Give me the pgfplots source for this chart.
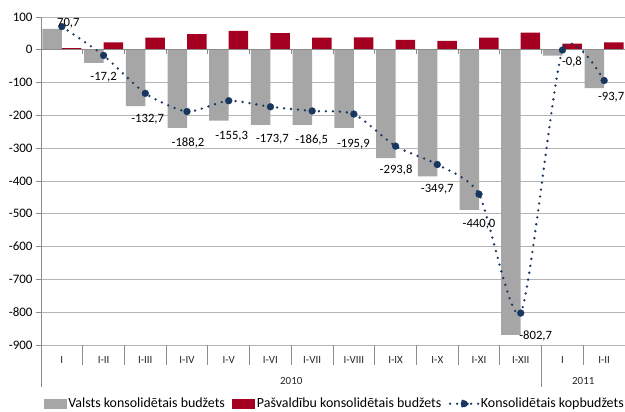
\documentclass[border=0pt]{standalone}
\usepackage{pgfplots}
\pgfplotsset{compat=1.18}
\usepackage{pgfplotstable}
\usepackage{fontspec}
\setmainfont{Carlito}
\definecolor{grayBar}{HTML}{A6A6A6}
\definecolor{redBar}{HTML}{A50021}
\definecolor{navy}{HTML}{17375E}
\definecolor{gridc}{HTML}{B5B5B5}
\definecolor{axisc}{HTML}{8C8C8C}

\pgfplotstableread{
x v
0 64
1 -40
2 -172
3 -238
4 -216
5 -229
6 -229
7 -238
8 -330
9 -386
10 -488
11 -869
12 -18
13 -117
}\valsts

\pgfplotstableread{
x v
0 5
1 23
2 37
3 48
4 58
5 51
6 37
7 38
8 30
9 27
10 37
11 52
12 19
13 23
}\pasv

\pgfplotstableread{
x v dx dy lab
0 70.7 6.5 3 70,7
1 -17.2 0 -22 -17,2
2 -132.7 2.4 -25.5 -132,7
3 -188.2 1 -31 -188,2
4 -155.3 3 -35 -155,3
5 -173.7 2 -32.5 -173,7
6 -186.5 -0.5 -29 -186,5
7 -195.9 -0.5 -30 -195,9
8 -293.8 0.5 -24 -293,8
9 -349.7 0 -25 -349,7
10 -440.0 0 -30 -440,0
11 -802.7 15 -22.5 -802,7
12 -0.8 9.5 -12 -0,8
13 -93.7 7 -16.5 -93,7
}\kop

\begin{document}
\begin{tikzpicture}
\begin{axis}[
  at={(41bp,67bp)}, anchor=south west,
  scale only axis, width=584bp, height=328bp,
  xmin=-0.5, xmax=13.5, ymin=-900, ymax=100,
  axis x line*=bottom, axis y line*=left,
  x axis line style={gridc, line width=0.75bp},
  y axis line style={axisc, line width=0.75bp},
  xtick={0,...,13},
  xticklabels={I,I-II,I-III,I-IV,I-V,I-VI,I-VII,I-VIII,I-IX,I-X,I-XI,I-XII,I,I-II},
  xtick style={draw=none},
  xticklabel style={anchor=center, yshift=-10bp, font=\fontsize{11}{13}\selectfont, text=black!85},
  ytick={-900,-800,...,100},
  tick align=outside,
  major tick length=5bp,
  ytick style={axisc, line width=0.75bp},
  yticklabel style={font=\fontsize{13}{15}\selectfont, text=black},
  /pgf/number format/assume math mode=true,
  ymajorgrids,
  grid style={gridc, line width=0.75bp},
  clip=false,
  legend columns=3,
  legend style={at={(0.5026,-0.179)}, anchor=center, draw=none, fill=none,
    font=\fontsize{14}{16}\selectfont, inner sep=0pt,
    nodes={inner sep=1.5bp},
    /tikz/every even column/.append style={column sep=6bp}},
]
\addplot[ybar, bar width=19.5bp, bar shift=-9.75bp, fill=grayBar, draw=none,
  legend image code/.code={\fill[grayBar] (0bp,-5bp) rectangle (23bp,5bp);}]
  table[x=x, y=v] {\valsts};
\addlegendentry{Valsts konsolidētais budžets}
\addplot[ybar, bar width=19.5bp, bar shift=9.75bp, fill=redBar, draw=none,
  legend image code/.code={\fill[redBar] (0bp,-5bp) rectangle (23bp,5bp);}]
  table[x=x, y=v] {\pasv};
\addlegendentry{Pašvaldību konsolidētais budžets}
\draw[axisc, line width=0.75bp] (axis cs:-0.5,0) -- (axis cs:13.5,0);
\pgfplotsinvokeforeach{0.5,1.5,...,12.5}{
  \draw[axisc, line width=0.75bp] (axis cs:#1,0) -- ([yshift=-4bp]axis cs:#1,0);
}
\addplot[navy, line width=2.6bp, line cap=round, dash pattern=on 0pt off 7bp,
  smooth, tension=0.4,
  mark=*, mark size=3.5bp, mark options={solid, fill=navy, draw=navy, line width=0.2bp},
  point meta=explicit symbolic,
  visualization depends on={\thisrow{dx} \as \dx},
  visualization depends on={\thisrow{dy} \as \dy},
  nodes near coords,
  nodes near coords style={anchor=center, xshift=\dx bp, yshift=\dy bp,
     font=\fontsize{12.7}{15}\selectfont, text=black, inner sep=0pt},
  legend image code/.code={
    \draw[navy, line width=2.6bp, line cap=round, dash pattern=on 0pt off 7bp] (0bp,0bp) -- (28bp,0bp);
    \fill[navy] (14bp,0bp) circle (3.5bp);}
] table[x=x, y=v, meta=lab] {\kop};
\addlegendentry{Konsolidētais kopbudžets}
\pgfplotsinvokeforeach{0.5,1.5,...,10.5,12.5}{
  \draw[axisc, line width=0.75bp] (axis cs:#1,-900) -- ([yshift=-20bp]axis cs:#1,-900);
}
\pgfplotsinvokeforeach{-0.5,11.5,13.5}{
  \draw[axisc, line width=0.75bp] (axis cs:#1,-900) -- ([yshift=-42bp]axis cs:#1,-900);
}
\node[font=\fontsize{11}{13}\selectfont, text=black!85] at ([yshift=-35.5bp]axis cs:5.5,-900) {2010};
\node[font=\fontsize{11}{13}\selectfont, text=black!85] at ([yshift=-35.5bp]axis cs:12.5,-900) {2011};
\end{axis}
\pgfresetboundingbox
\useasboundingbox (0,0) rectangle (625bp,412bp);
\end{tikzpicture}
\end{document}
